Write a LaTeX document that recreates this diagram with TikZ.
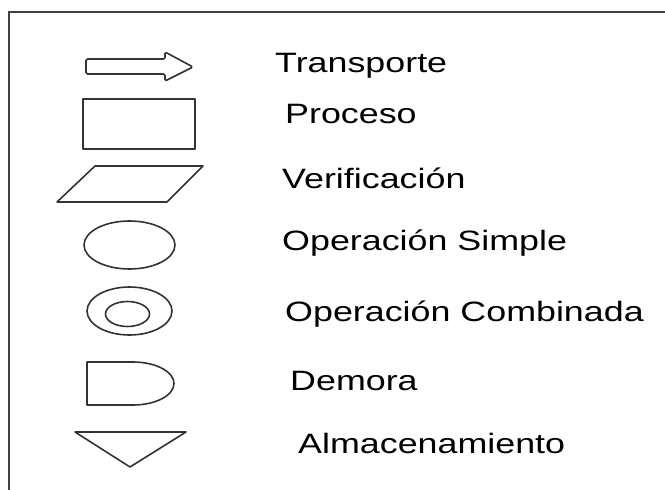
\documentclass[tikz,border=0pt]{standalone}
\usepackage{fontspec}
\newfontfamily\rotulo[FakeStretch=1.28]{Liberation Sans}
\usetikzlibrary{positioning}

\tikzset{
  simbolo/.style={draw=black!80,line width=1.6pt,line join=round},
  etiqueta/.style={anchor=base west,inner sep=0pt,font=\rotulo\fontsize{28}{30}\selectfont}
}

\begin{document}
\begin{tikzpicture}[x=1pt,y=-1pt]
  \useasboundingbox (0,0) rectangle (665,490);
  % marco
  \draw[black!75,line width=2.2pt](9,490)--(9,12)--(665,12);
  % simbolos
  \draw[simbolo,rounded corners=1.5pt](86,59)--(165,59)--(165,52)--(193,67)--(165,81)--(165,74)--(86,74)--cycle;
  \draw[simbolo](83,99) rectangle (195,149);
  \draw[simbolo](95,166)--(203,166)--(167,202)--(57,202)--cycle;
  \draw[simbolo](129.5,245) ellipse[x radius=45.5,y radius=24];
  \draw[simbolo](129.5,311) ellipse[x radius=42.5,y radius=24];
  \draw[simbolo](127.5,314) ellipse[x radius=22,y radius=12.5];
  \draw[simbolo](133,405)--(87,405)--(87,362)--(133,362) arc[start angle=-90,end angle=90,x radius=41,y radius=21.5];
  \draw[simbolo](75,432)--(186,432)--(130,467)--cycle;
  % textos
  \node[etiqueta] (transporte) at (275,72){Transporte};
  \node[etiqueta] (proceso) at (285,123){Proceso};
  \node[etiqueta] (verificacion) at (282,188){Verificación};
  \node[etiqueta] (simple) at (282,250){Operación Simple};
  \node[etiqueta] (combinada) at (285,321){Operación Combinada};
  \node[etiqueta] (demora) at (290,390){Demora};
  \node[etiqueta] (almacen) at (298,453){Almacenamiento};
\end{tikzpicture}
\end{document}
